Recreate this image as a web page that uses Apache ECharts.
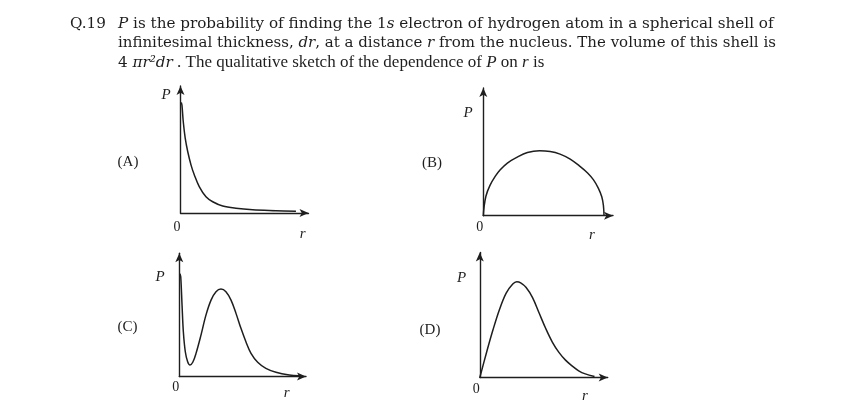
<!DOCTYPE html>
<html><head><meta charset="utf-8">
<script src="https://cdn.jsdelivr.net/npm/echarts@6/dist/echarts.min.js"></script>
<style>html,body{margin:0;padding:0;background:#fff}#c{width:850px;height:404px}</style>
</head><body><div id="c"></div>
<script>
// ---- data (axis units 0..10) ----
const panelNames = ['(A)', '(B)', '(C)', '(D)'];
const yAxisLabel = 'P';
const xAxisLabel = 'r';
const originLabel = '0';

const rA = [0.06, 0.11, 0.21, 0.36, 0.55, 0.80, 1.05, 1.42, 1.93, 2.44, 3.20, 4.20, 5.47, 7.23, 8.75];
const pA = [8.45, 8.24, 6.97, 5.70, 4.68, 3.66, 2.90, 2.02, 1.24, 0.86, 0.53, 0.36, 0.25, 0.18, 0.13];

const rB = [0, 0.05, 0.2, 0.5, 0.9, 1.25, 1.8, 2.5, 3.3, 4.2, 5.0, 5.74, 6.5, 7.23, 7.8, 8.23, 8.6, 8.86, 8.98, 9.03];
const pB = [0, 0.6, 1.5, 2.3, 3.0, 3.47, 4.0, 4.43, 4.8, 4.94, 4.88, 4.68, 4.3, 3.75, 3.25, 2.74, 2.1, 1.44, 0.8, 0];

const rC = [0.05, 0.11, 0.21, 0.31, 0.46, 0.64, 0.82, 1.03, 1.28, 1.66, 2.04, 2.43, 2.81, 3.19, 3.57, 3.96, 4.34, 4.72, 5.10, 5.49, 6.00, 6.63, 7.40, 8.42, 9.18];
const pC = [8.1, 7.85, 5.62, 3.52, 1.95, 1.16, 0.90, 1.12, 1.82, 3.26, 4.83, 6.01, 6.67, 6.88, 6.67, 6.01, 4.97, 3.79, 2.74, 1.82, 1.12, 0.64, 0.33, 0.12, 0.06];

const rD = [0, 0.5, 1.0, 1.5, 2.0, 2.5, 2.8, 3.1, 3.5, 4.0, 4.5, 5.0, 5.5, 6.0, 6.5, 7.0, 7.5, 8.0, 8.7];
const pD = [0, 1.9, 3.7, 5.3, 6.55, 7.25, 7.43, 7.35, 7.0, 6.2, 5.0, 3.8, 2.75, 1.95, 1.35, 0.9, 0.52, 0.28, 0.08];

const seriesR = [rA, rB, rC, rD];
const seriesP = [pA, pB, pC, pD];

// ---- layout ----
const INK = '#1e1e1e';
const grids = [
  { left: 180.5, top: 86, width: 128, height: 127 },
  { left: 483.3, top: 88, width: 129.7, height: 127.7 },
  { left: 179.3, top: 253.3, width: 126.7, height: 123.2 },
  { left: 479.8, top: 252.5, width: 127.9, height: 125 }
];
const labelMargins = [7, 4.5, 3.5, 4.5];
const pPos = [[166, 95], [468, 113], [160, 277], [461.7, 278.3]];
const rPos = [[302.7, 234], [592, 235], [286.7, 393], [585, 395.7]];
const namePos = [[128, 162], [432, 163], [127.5, 327], [430, 330]];

const axisLine = { show: true, symbol: ['none', 'arrow'], symbolSize: [6, 9], lineStyle: { color: INK, width: 1.4 } };
const BODY = '15.2px "DejaVu Serif"';
const BODY2 = '15px "DejaVu Serif"';
const iStyle = { fontStyle: 'italic', fontFamily: 'DejaVu Serif', fontSize: 15.2 };
const iStyle2 = { fontStyle: 'italic', fontFamily: 'DejaVu Serif', fontSize: 15 };

const option = {
  backgroundColor: '#ffffff',
  animation: false,
  grid: grids.map(g => Object.assign({ containLabel: false }, g)),
  xAxis: grids.map((g, i) => ({
    gridIndex: i, type: 'value', min: 0, max: 9.7, interval: 5,
    axisLine, axisTick: { show: false }, splitLine: { show: false },
    axisLabel: {
      show: true, margin: labelMargins[i], color: INK, fontFamily: 'Liberation Serif', fontSize: 14,
      padding: [0, 7, 0, 0], showMaxLabel: false,
      formatter: v => (v === 0 ? originLabel : '')
    }
  })),
  yAxis: grids.map((g, i) => ({
    gridIndex: i, type: 'value', min: 0, max: 9.7, interval: 5,
    axisLine, axisTick: { show: false }, splitLine: { show: false }, axisLabel: { show: false }
  })),
  series: seriesR.map((rs, i) => ({
    type: 'line', xAxisIndex: i, yAxisIndex: i,
    data: rs.map((r, k) => [r, seriesP[i][k]]),
    smooth: 0.35, showSymbol: false, symbol: 'none',
    lineStyle: { color: INK, width: 1.5 }
  })),
  graphic: [
    { type: 'text', x: 70, y: 24, style: { text: 'Q.19', font: BODY, fill: INK, verticalAlign: 'middle' } },
    { type: 'text', x: 118, y: 24, style: {
      text: '{i|P} is the probability of finding the 1{i|s} electron of hydrogen atom in a spherical shell of',
      font: BODY, fill: INK, verticalAlign: 'middle', rich: { i: iStyle } } },
    { type: 'text', x: 118, y: 43.5, style: {
      text: 'infinitesimal thickness, {i|dr}, at a distance {i|r} from the nucleus. The volume of this shell is',
      font: BODY2, fill: INK, verticalAlign: 'middle', rich: { i: iStyle2 } } },
    { type: 'text', x: 118, y: 63, style: {
      text: '4 {i|πr²dr}{t| . The qualitative sketch of the dependence of }{ti|P}{t| on }{ti|r}{t| is}',
      font: BODY, fill: INK, verticalAlign: 'middle',
      rich: {
        i: iStyle,
        t: { fontFamily: 'Liberation Serif', fontSize: 17 },
        ti: { fontFamily: 'Liberation Serif', fontSize: 17, fontStyle: 'italic' }
      } } }
  ].concat(
    panelNames.map((n, i) => ({ type: 'text', x: namePos[i][0], y: namePos[i][1],
      style: { text: n, font: '15px "Liberation Serif"', fill: INK, align: 'center', verticalAlign: 'middle' } })),
    pPos.map(p => ({ type: 'text', x: p[0], y: p[1],
      style: { text: yAxisLabel, font: 'italic 15px "Liberation Serif"', fill: INK, align: 'center', verticalAlign: 'middle' } })),
    rPos.map(p => ({ type: 'text', x: p[0], y: p[1],
      style: { text: xAxisLabel, font: 'italic 15px "Liberation Serif"', fill: INK, align: 'center', verticalAlign: 'middle' } }))
  )
};

const chart = echarts.init(document.getElementById('c'), null, { renderer: 'canvas' });
chart.setOption(option);
</script>
</body></html>
